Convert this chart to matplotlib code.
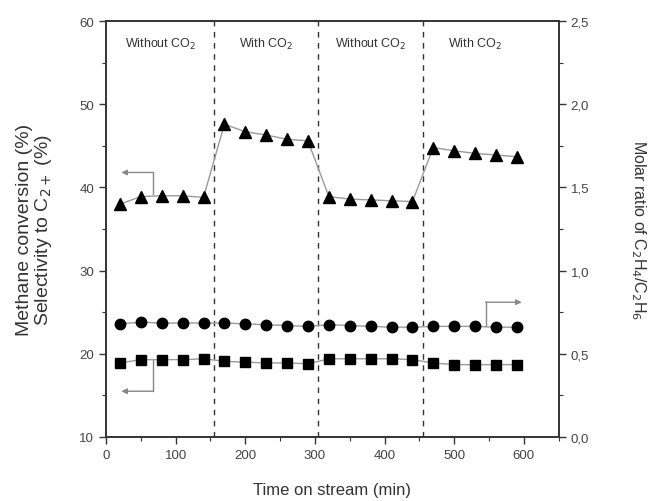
import matplotlib
matplotlib.use("Agg")
import matplotlib.pyplot as plt
from matplotlib.ticker import MultipleLocator, FuncFormatter

time_min = [20, 50, 80, 110, 140, 170, 200, 230, 260, 290,
            320, 350, 380, 410, 440, 470, 500, 530, 560, 590]
methane_conv = [38.0, 38.9, 39.0, 39.0, 38.8, 47.6, 46.7, 46.3, 45.8, 45.6,
                38.9, 38.6, 38.5, 38.4, 38.3, 44.8, 44.4, 44.1, 43.9, 43.7]
selectivity = [18.9, 19.3, 19.3, 19.3, 19.4, 19.1, 19.0, 18.9, 18.9, 18.8,
               19.4, 19.4, 19.4, 19.4, 19.3, 18.9, 18.7, 18.7, 18.7, 18.7]
molar_ratio = [0.68, 0.69, 0.685, 0.685, 0.685, 0.685, 0.68, 0.675, 0.67, 0.665,
               0.675, 0.67, 0.665, 0.66, 0.66, 0.665, 0.665, 0.665, 0.66, 0.66]
switch_times = [155, 305, 455]
region_labels = ["Without CO$_2$", "With CO$_2$", "Without CO$_2$", "With CO$_2$"]
region_centers = [78, 230, 380, 530]

plt.rcParams['font.family'] = ['Liberation Sans', 'DejaVu Sans']
txt = '#333333'
fig = plt.figure(figsize=(6.56, 5.02), dpi=100)
ax = fig.add_axes([0.1616, 0.1275, 0.690, 0.8285])
ax2 = ax.twinx()

ax.set_xlim(0, 650)
ax.set_ylim(10, 60)
ax2.set_ylim(0, 2.5)

line_c = '#9a9a9a'
ax.plot(time_min, methane_conv, '-', color=line_c, lw=1.0, marker='^', ms=8.5,
        mfc='black', mec='black', zorder=3)
ax.plot(time_min, selectivity, '-', color=line_c, lw=1.0, marker='s', ms=7,
        mfc='black', mec='black', zorder=3)
ax2.plot(time_min, molar_ratio, '-', color=line_c, lw=1.0, marker='o', ms=7.5,
         mfc='black', mec='black', zorder=3)

for t in switch_times:
    ax.axvline(t, color='#333333', ls=(0, (4, 4)), lw=1.0, zorder=1)

for xc, lab in zip(region_centers, region_labels):
    ax.text(xc, 57.3, lab, ha='center', va='center', fontsize=9, color=txt)

arr = dict(arrowstyle='-|>', color='#888888', lw=1.0, mutation_scale=8,
           shrinkA=0, shrinkB=0)
# triangle arrow (left axis)
ax.plot([68, 68], [39.2, 41.8], color='#888888', lw=1.0)
ax.annotate('', xy=(22, 41.8), xytext=(68, 41.8), arrowprops=arr)
# square arrow (left axis)
ax.plot([68, 68], [19.3, 15.5], color='#888888', lw=1.0)
ax.annotate('', xy=(22, 15.5), xytext=(68, 15.5), arrowprops=arr)
# circle arrow (right axis)
ax2.plot([545, 545], [0.665, 0.81], color='#888888', lw=1.0)
ax2.annotate('', xy=(597, 0.81), xytext=(545, 0.81), arrowprops=arr)

ax.xaxis.set_major_locator(MultipleLocator(100))
ax.xaxis.set_minor_locator(MultipleLocator(50))
ax.yaxis.set_major_locator(MultipleLocator(10))
ax.yaxis.set_minor_locator(MultipleLocator(5))
ax2.yaxis.set_major_locator(MultipleLocator(0.5))
ax2.yaxis.set_minor_locator(MultipleLocator(0.25))
ax2.yaxis.set_major_formatter(FuncFormatter(lambda v, p: f"{v:.1f}".replace('.', ',')))

for a in (ax, ax2):
    a.tick_params(which='major', direction='out', length=5, width=1.0,
                  labelsize=9.5, labelcolor='#444444', color='#333333')
    a.tick_params(which='minor', direction='out', length=3, width=0.8, color='#333333')
    for s in a.spines.values():
        s.set_color('#333333')
        s.set_linewidth(1.2)

ax.set_xlabel('Time on stream (min)', fontsize=12, color=txt, labelpad=15)
ax.set_ylabel('Methane conversion (%)\nSelectivity to C$_{2+}$ (%)', fontsize=14,
              color=txt, labelpad=18, linespacing=1.0)
ax2.set_ylabel('Molar ratio of C$_2$H$_4$/C$_2$H$_6$', fontsize=11.5, color=txt,
               rotation=270, labelpad=42)

fig.savefig('out.png', dpi=100)
